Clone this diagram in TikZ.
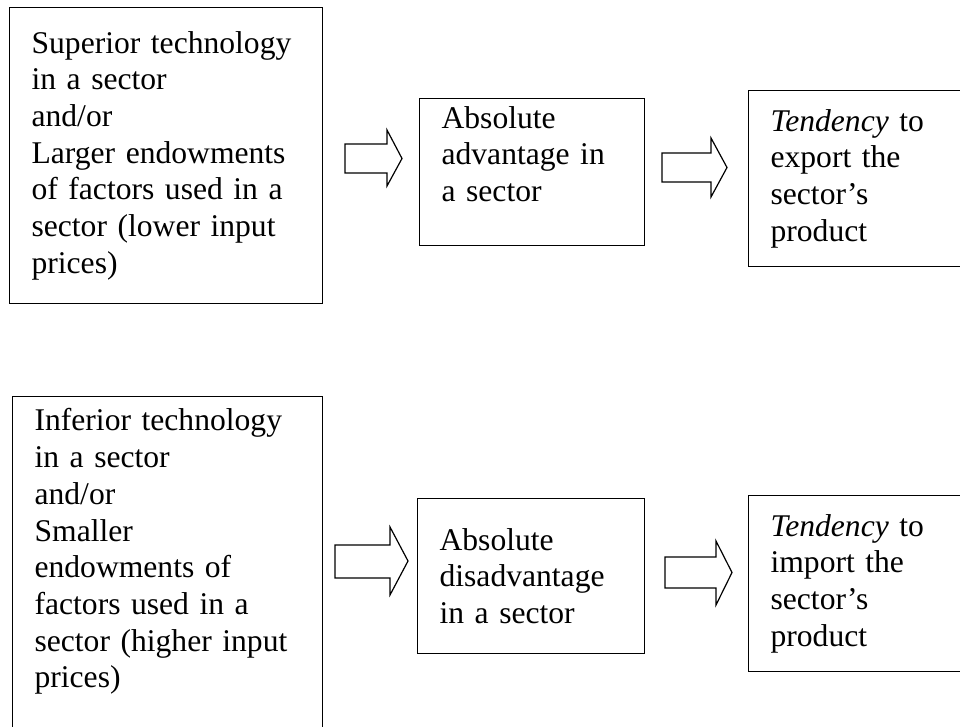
\documentclass[tikz,border=0pt]{standalone}
\usepackage{fontspec}
\setmainfont{Liberation Serif}
\usepackage{tikz}
\usetikzlibrary{positioning}

\tikzset{
  box/.style={draw=black, line width=1.2pt, anchor=north west, align=left,
    inner xsep=22pt, inner ysep=0pt, font=\fontsize{31.6}{36.7}\selectfont},
  fat/.style={draw=black, line width=1.2pt, line join=miter}
}

\begin{document}
\begin{tikzpicture}[x=1pt, y=-1pt]
\useasboundingbox (0,0) rectangle (960,727);

% top row
\node[box, text width=269pt, minimum width=313pt, minimum height=296pt] (sup) at (9,7)
  {Superior technology\\in a sector\\and/or\\Larger endowments\\of factors used in a\\sector (lower input\\prices)};
\node[box, text width=181pt, minimum width=225pt, minimum height=147pt] (adv) at (419,98)
  {Absolute\\advantage in\\a sector\\\mbox{}};
\node[box, text width=169pt, minimum width=213pt, minimum height=176pt] (expo) at (748,90)
  {\textit{Tendency} to\\export the\\sector’s\\product};

% bottom row
\node[box, text width=266pt, minimum width=310pt, minimum height=340pt] (inf) at (12,396)
  {Inferior technology\\in a sector\\and/or\\Smaller\\endowments of\\factors used in a\\sector (higher input\\prices)\\\mbox{}};
\node[box, text width=183pt, minimum width=227pt, minimum height=155pt] (dis) at (417,498)
  {Absolute\\disadvantage\\in a sector};
\node[box, text width=169pt, minimum width=213pt, minimum height=176pt] (impo) at (748,495)
  {\textit{Tendency} to\\import the\\sector’s\\product};

% block arrows
\draw[fat] (345,144) -- (387,144) -- (387,130) -- (402,158.5) -- (387,186) -- (387,173) -- (345,173) -- cycle;
\draw[fat] (662,153) -- (711,153) -- (711,138) -- (727,167.5) -- (711,197) -- (711,182) -- (662,182) -- cycle;
\draw[fat] (335,545) -- (390,545) -- (390,527) -- (408,561) -- (390,595) -- (390,578) -- (335,578) -- cycle;
\draw[fat] (665,557) -- (716,557) -- (716,541) -- (732,572.5) -- (716,605) -- (716,588) -- (665,588) -- cycle;
\end{tikzpicture}
\end{document}
